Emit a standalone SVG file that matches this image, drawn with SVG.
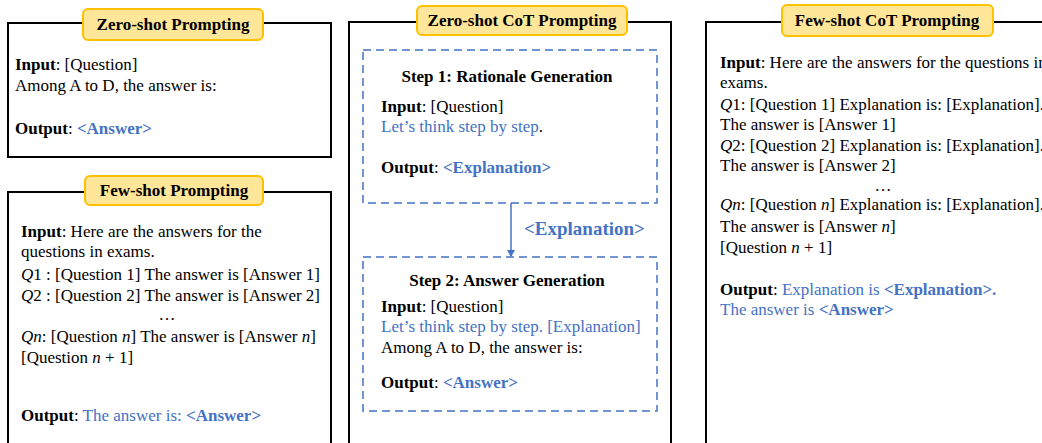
<svg xmlns="http://www.w3.org/2000/svg" width="1042" height="443" viewBox="0 0 1042 443">
<style>
text{font-family:"Liberation Serif","Times New Roman",serif;font-size:17px;fill:#000}
.b{font-weight:bold}
.i{font-style:italic}
.bl{fill:#4472C4}
.panel{fill:#fff;stroke:#000;stroke-width:2}
.badge{fill:#FFE699;stroke:#FFC000;stroke-width:2}
.title{font-weight:bold;font-size:17px;text-anchor:middle}
.dash{fill:none;stroke:#4472C4;stroke-width:1.5;stroke-dasharray:8,5}
</style>
<defs>
<marker id="ah" markerWidth="8" markerHeight="8" refX="6" refY="4" orient="auto" markerUnits="userSpaceOnUse">
<path d="M0,0 L7,4 L0,8 z" fill="#4472C4"/>
</marker>
</defs>
<rect width="1042" height="443" fill="#fff"/>

<g id="zero-shot">
<rect class="panel" x="8" y="23" width="323" height="134"/>
<rect class="badge" x="83" y="9" width="180" height="31" rx="5"/>
<text class="title" x="173" y="30">Zero-shot Prompting</text>
<text x="15" y="70"><tspan class="b">Input</tspan>: [Question]</text>
<text x="15" y="91">Among A to D, the answer is:</text>
<text x="15" y="134"><tspan class="b">Output</tspan>: <tspan class="b bl">&lt;Answer&gt;</tspan></text>
</g>

<g id="few-shot">
<rect class="panel" x="8" y="192" width="323" height="260"/>
<rect class="badge" x="85" y="176" width="178" height="29" rx="5"/>
<text class="title" x="174" y="196">Few-shot Prompting</text>
<text x="21" y="237"><tspan class="b">Input</tspan>: Here are the answers for the</text>
<text x="21" y="257">questions in exams.</text>
<text x="21" y="280"><tspan class="i">Q</tspan>1 : [Question 1] The answer is [Answer 1]</text>
<text x="21" y="301"><tspan class="i">Q</tspan>2 : [Question 2] The answer is [Answer 2]</text>
<text x="167" y="320" text-anchor="middle">…</text>
<text x="21" y="342"><tspan class="i">Qn</tspan>: [Question <tspan class="i">n</tspan>] The answer is [Answer <tspan class="i">n</tspan>]</text>
<text x="21" y="363">[Question <tspan class="i">n</tspan> + 1]</text>
<text x="21" y="421"><tspan class="b">Output</tspan>: <tspan class="bl">The answer is: </tspan><tspan class="b bl">&lt;Answer&gt;</tspan></text>
</g>

<g id="zero-shot-cot">
<rect class="panel" x="349" y="22" width="322" height="430"/>
<rect class="badge" x="417" y="6" width="210" height="29" rx="5"/>
<text class="title" x="522" y="26">Zero-shot CoT Prompting</text>
<g id="step1">
<rect class="dash" x="363" y="50" width="294" height="153"/>
<text class="b" x="507" y="82" text-anchor="middle">Step 1: Rationale Generation</text>
<text x="381" y="112"><tspan class="b">Input</tspan>: [Question]</text>
<text x="381" y="132"><tspan class="bl">Let’s think step by step</tspan>.</text>
<text x="381" y="173"><tspan class="b">Output</tspan>: <tspan class="b bl">&lt;Explanation&gt;</tspan></text>
</g>
<g id="step2">
<rect class="dash" x="363" y="257" width="294" height="154"/>
<text class="b" x="507" y="286" text-anchor="middle">Step 2: Answer Generation</text>
<text x="381" y="312"><tspan class="b">Input</tspan>: [Question]</text>
<text x="381" y="332"><tspan class="bl">Let’s think step by step. [Explanation]</tspan></text>
<text x="381" y="353">Among A to D, the answer is:</text>
<text x="381" y="388"><tspan class="b">Output</tspan>: <tspan class="b bl">&lt;Answer&gt;</tspan></text>
</g>
</g>

<g id="connectors">
<line x1="511" y1="203" x2="511" y2="256" stroke="#4472C4" stroke-width="1.5" marker-end="url(#ah)"/>
<text class="b bl" x="524" y="235" style="font-size:19px">&lt;Explanation&gt;</text>
</g>

<g id="few-shot-cot">
<rect class="panel" x="706" y="22" width="350" height="430"/>
<rect class="badge" x="782" y="5" width="211" height="31" rx="5"/>
<text class="title" x="887" y="26">Few-shot CoT Prompting</text>
<text x="720" y="68"><tspan class="b">Input</tspan>: Here are the answers for the questions in</text>
<text x="720" y="88">exams.</text>
<text x="720" y="110"><tspan class="i">Q</tspan>1: [Question 1] Explanation is: [Explanation].</text>
<text x="720" y="130">The answer is [Answer 1]</text>
<text x="720" y="151"><tspan class="i">Q</tspan>2: [Question 2] Explanation is: [Explanation].</text>
<text x="720" y="171">The answer is [Answer 2]</text>
<text x="883" y="191" text-anchor="middle">…</text>
<text x="720" y="210"><tspan class="i">Qn</tspan>: [Question <tspan class="i">n</tspan>] Explanation is: [Explanation].</text>
<text x="720" y="232">The answer is [Answer <tspan class="i">n</tspan>]</text>
<text x="720" y="253">[Question <tspan class="i">n</tspan> + 1]</text>
<text x="720" y="295"><tspan class="b">Output</tspan>: <tspan class="bl">Explanation is </tspan><tspan class="b bl">&lt;Explanation&gt;.</tspan></text>
<text x="720" y="315"><tspan class="bl">The answer is </tspan><tspan class="b bl">&lt;Answer&gt;</tspan></text>
</g>
</svg>
